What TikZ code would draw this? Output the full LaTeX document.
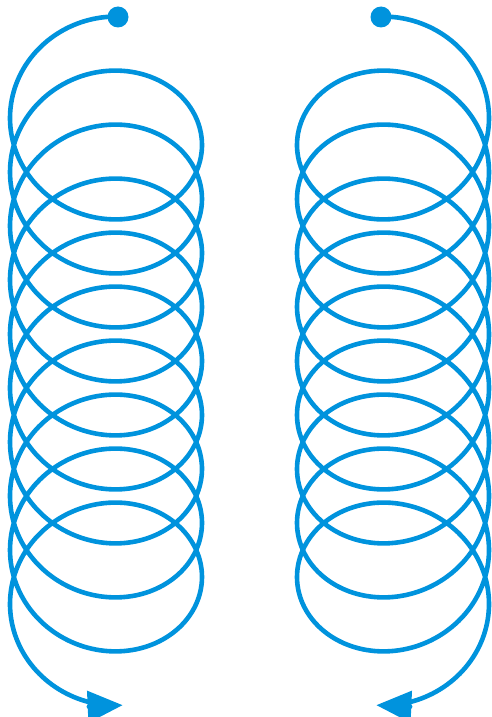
\documentclass[tikz,border=0pt]{standalone}
\usepackage{xcolor}
\usepackage{tikz}
\usetikzlibrary{arrows.meta}
\definecolor{springblue}{HTML}{0093DD}

\begin{document}
\begin{tikzpicture}[
    x=1pt, y=-1pt,
    coil/.style={draw=springblue, line width=4.6pt, line cap=round, line join=round},
    dot/.style={circle, fill=springblue, inner sep=0pt, minimum size=21pt},
    tip/.style={-{Triangle[length=35pt, width=31pt]}},
]
\useasboundingbox (0,0) rectangle (492,717);

% Start points
\node[dot] (startL) at (118,17) {};
\node[dot] (startR) at (381,17) {};

% Coils
\draw[coil, tip] plot[domain=-7:3430, samples=700, smooth, variable=\t]
    ({106-96*sin(\t)}, {104.5+0.15*\t-87.5*cos(\t)});
\draw[coil, tip] plot[domain=-7:3430, samples=700, smooth, variable=\t]
    ({393+96*sin(\t)}, {104.5+0.15*\t-87.5*cos(\t)});

\end{tikzpicture}
\end{document}
